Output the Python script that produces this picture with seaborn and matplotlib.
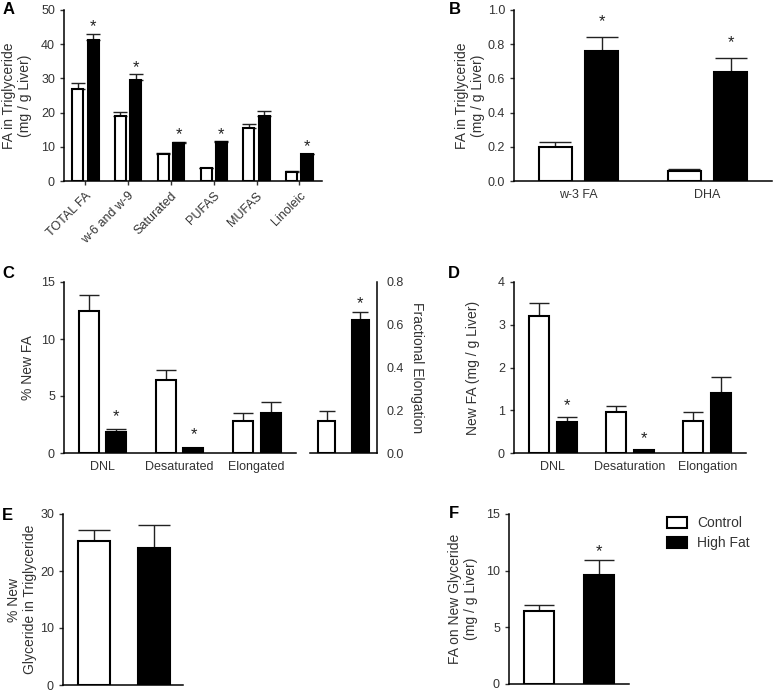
import numpy as np
import pandas as pd
import matplotlib
matplotlib.use("Agg")
import matplotlib.pyplot as plt
import seaborn as sns
from matplotlib.patches import Patch

# ---------------- data ----------------
groups = ["Control", "High Fat"]

a_cats = ["TOTAL FA", "w-6 and w-9", "Saturated", "PUFAS", "MUFAS", "Linoleic"]
a_ctrl = [26.8, 18.9, 7.8, 3.7, 15.4, 2.6]
a_ctrl_err = [1.8, 1.3, 0.4, 0.2, 1.2, 0.2]
a_hf = [41.2, 29.5, 11.1, 11.4, 19.0, 7.8]
a_hf_err = [1.9, 1.7, 0.3, 0.2, 1.4, 0.2]
a_sig = [True, True, True, True, False, True]

b_cats = ["w-3 FA", "DHA"]
b_ctrl = [0.20, 0.06]
b_ctrl_err = [0.03, 0.01]
b_hf = [0.76, 0.64]
b_hf_err = [0.08, 0.08]
b_sig = [True, True]

c_cats = ["DNL", "Desaturated", "Elongated"]
c_ctrl = [12.5, 6.4, 2.8]
c_ctrl_err = [1.4, 0.85, 0.7]
c_hf = [1.8, 0.4, 3.5]
c_hf_err = [0.3, 0.08, 0.95]
c_sig = [True, True, False]

c2_cats = ["Fractional Elongation"]
c2_ctrl = [0.15]
c2_ctrl_err = [0.045]
c2_hf = [0.62]
c2_hf_err = [0.04]
c2_sig = [True]

d_cats = ["DNL", "Desaturation", "Elongation"]
d_ctrl = [3.21, 0.97, 0.74]
d_ctrl_err = [0.30, 0.13, 0.22]
d_hf = [0.73, 0.06, 1.41]
d_hf_err = [0.12, 0.02, 0.36]
d_sig = [True, True, False]

e_vals = [25.2, 24.1]
e_err = [2.0, 3.9]
e_sig = [False, False]

f_vals = [6.47, 9.64]
f_err = [0.5, 1.26]
f_sig = [False, True]

# ---------------- style ----------------
sns.set_theme(style="ticks")
plt.rcParams["font.family"] = ["Liberation Sans", "DejaVu Sans"]
TXT = "#333333"
plt.rcParams.update({
    "axes.linewidth": 1.1,
    "axes.edgecolor": "black",
    "xtick.major.size": 3,
    "ytick.major.size": 3,
    "xtick.major.width": 1.0,
    "ytick.major.width": 1.0,
    "xtick.labelsize": 9,
    "ytick.labelsize": 9,
    "xtick.color": TXT,
    "ytick.color": TXT,
    "axes.labelcolor": TXT,
    "axes.labelsize": 10,
    "text.color": TXT,
})
pal = {"Control": "white", "High Fat": "black"}

W, H = 774, 691
fig = plt.figure(figsize=(W / 100, H / 100), dpi=100)


def rect(x0, x1, ytop, ybot):
    return [x0 / W, 1 - ybot / H, (x1 - x0) / W, (ybot - ytop) / H]


def add_err(ax, containers, errs, sigs, capsize, star_off):
    for cont, e, s in zip(containers, errs, sigs):
        for bar, ee, ss in zip(cont, e, s):
            x = bar.get_x() + bar.get_width() / 2
            y = bar.get_height()
            ax.errorbar(x, y, yerr=[[0], [ee]], fmt="none", ecolor="#222222",
                        elinewidth=1.0, capsize=capsize, capthick=1.0, zorder=0.5)
            if ss:
                ax.annotate("*", (x, y + ee), xytext=(0, star_off),
                            textcoords="offset points", ha="center", va="center",
                            fontsize=12, color="#222222")


def grouped(ax, cats, ctrl, ctrl_err, hf, hf_err, sig, width, gap, capsize, star_off):
    df = pd.DataFrame({
        "cat": list(cats) * 2,
        "group": ["Control"] * len(cats) + ["High Fat"] * len(cats),
        "val": list(ctrl) + list(hf),
    })
    sns.barplot(data=df, x="cat", y="val", hue="group", order=cats, hue_order=groups,
                palette=pal, edgecolor="black", linewidth=1.5, width=width, gap=gap,
                errorbar=None, legend=False, saturation=1, ax=ax)
    add_err(ax, ax.containers, [ctrl_err, hf_err], [[False] * len(cats), sig],
            capsize, star_off)
    ax.set_xlabel("")


def single(ax, vals, errs, sig, width, capsize, star_off):
    df = pd.DataFrame({"group": groups, "val": vals})
    sns.barplot(data=df, x="group", y="val", hue="group", order=groups, hue_order=groups,
                palette=pal, edgecolor="black", linewidth=1.5, width=width,
                errorbar=None, legend=False, saturation=1, dodge=False, ax=ax)
    bars = [p for c in ax.containers for p in c]
    add_err(ax, [bars], [errs], [sig], capsize, star_off)
    ax.set_xlabel("")
    ax.set_xticks([])


# ---------------- Panel A ----------------
axA = fig.add_axes(rect(64, 322, 10, 181))
grouped(axA, a_cats, a_ctrl, a_ctrl_err, a_hf, a_hf_err, a_sig, 0.72, 0.28, 5, 5)
axA.set_xlim(-0.5, 5.53)
axA.set_ylim(0, 50)
axA.set_yticks(np.arange(0, 51, 10))
plt.setp(axA.get_xticklabels(), rotation=45, ha="right", rotation_mode="anchor")
axA.set_ylabel("FA in Triglyceride\n(mg / g Liver)", va="center")
axA.yaxis.set_label_coords(-0.182, 0.5)
sns.despine(ax=axA)

# ---------------- Panel B ----------------
axB = fig.add_axes(rect(514, 772, 10, 181))
grouped(axB, b_cats, b_ctrl, b_ctrl_err, b_hf, b_hf_err, b_sig, 0.72, 0.28, 11.5, 11)
axB.set_xlim(-0.5, 1.5)
axB.set_ylim(0, 1.0)
axB.set_yticks(np.arange(0, 1.01, 0.2))
axB.yaxis.set_major_formatter("{x:.1f}")
axB.tick_params(axis="x", length=0, pad=6)
axB.set_ylabel("FA in Triglyceride\n(mg / g Liver)", va="center")
axB.yaxis.set_label_coords(-0.17, 0.5)
sns.despine(ax=axB)

# ---------------- Panel C ----------------
axC = fig.add_axes(rect(64, 296, 282, 453))
grouped(axC, c_cats, c_ctrl, c_ctrl_err, c_hf, c_hf_err, c_sig, 0.72, 0.28, 7, 9)
axC.set_xlim(-0.5, 2.51)
axC.set_ylim(0, 15)
axC.set_yticks([0, 5, 10, 15])
axC.tick_params(axis="x", length=0, pad=6)
axC.set_ylabel("% New FA", va="center")
axC.yaxis.set_label_coords(-0.155, 0.5)
sns.despine(ax=axC)

axC2 = fig.add_axes(rect(310, 377, 282, 453))
grouped(axC2, c2_cats, c2_ctrl, c2_ctrl_err, c2_hf, c2_hf_err, c2_sig, 1.0, 0.5, 6, 6)
axC2.set_xlim(-0.5, 0.5)
axC2.set_ylim(0, 0.8)
axC2.set_xticks([])
axC2.yaxis.tick_right()
axC2.set_yticks(np.arange(0, 0.81, 0.2))
axC2.yaxis.set_major_formatter("{x:.1f}")
axC2.set_ylabel("")
sns.despine(ax=axC2, left=True, right=False)
axC2.text(1.6, 0.5, "Fractional Elongation", rotation=-90, transform=axC2.transAxes,
          ha="center", va="center", fontsize=10, color=TXT)

# ---------------- Panel D ----------------
axD = fig.add_axes(rect(514, 746, 282, 453))
grouped(axD, d_cats, d_ctrl, d_ctrl_err, d_hf, d_hf_err, d_sig, 0.72, 0.28, 7, 8)
axD.set_xlim(-0.5, 2.5)
axD.set_ylim(0, 4)
axD.set_yticks([0, 1, 2, 3, 4])
axD.tick_params(axis="x", length=0, pad=6)
axD.set_ylabel("New FA (mg / g Liver)", va="center")
axD.yaxis.set_label_coords(-0.177, 0.5)
sns.despine(ax=axD)

# ---------------- Panel E ----------------
axE = fig.add_axes(rect(63, 183, 514, 685))
single(axE, e_vals, e_err, e_sig, 0.53, 11.5, 8)
axE.set_xlim(-0.52, 1.48)
axE.set_ylim(0, 30)
axE.set_yticks([0, 10, 20, 30])
axE.set_ylabel("% New\nGlyceride in Triglyceride", va="center")
axE.yaxis.set_label_coords(-0.34, 0.5)
sns.despine(ax=axE)

# ---------------- Panel F ----------------
axF = fig.add_axes(rect(509, 629, 514, 684))
single(axF, f_vals, f_err, f_sig, 0.5, 11, 6.5)
axF.set_xlim(-0.5, 1.5)
axF.set_ylim(0, 15)
axF.set_yticks([0, 5, 10, 15])
axF.set_ylabel("FA on New Glyceride\n(mg / g Liver)", va="center")
axF.yaxis.set_label_coords(-0.38, 0.5)
sns.despine(ax=axF)

# legend
handles = [Patch(facecolor=pal[g], edgecolor="black", linewidth=1.5, label=g) for g in groups]
fig.legend(handles=handles, loc="upper left", bbox_to_anchor=(667 / W, 1 - 516 / H),
           frameon=False, fontsize=10, borderpad=0, borderaxespad=0,
           handlelength=1.45, handleheight=0.85, handletextpad=0.7, labelspacing=0.45)

# panel letters
for letter, (px, py) in {"A": (3, 9), "B": (449, 9), "C": (2, 273), "D": (448, 274),
                         "E": (2, 515), "F": (449, 514)}.items():
    fig.text(px / W, 1 - py / H, letter, ha="left", va="center", fontsize=12,
             fontweight="bold", color="black")

fig.savefig("out.png", dpi=100)
